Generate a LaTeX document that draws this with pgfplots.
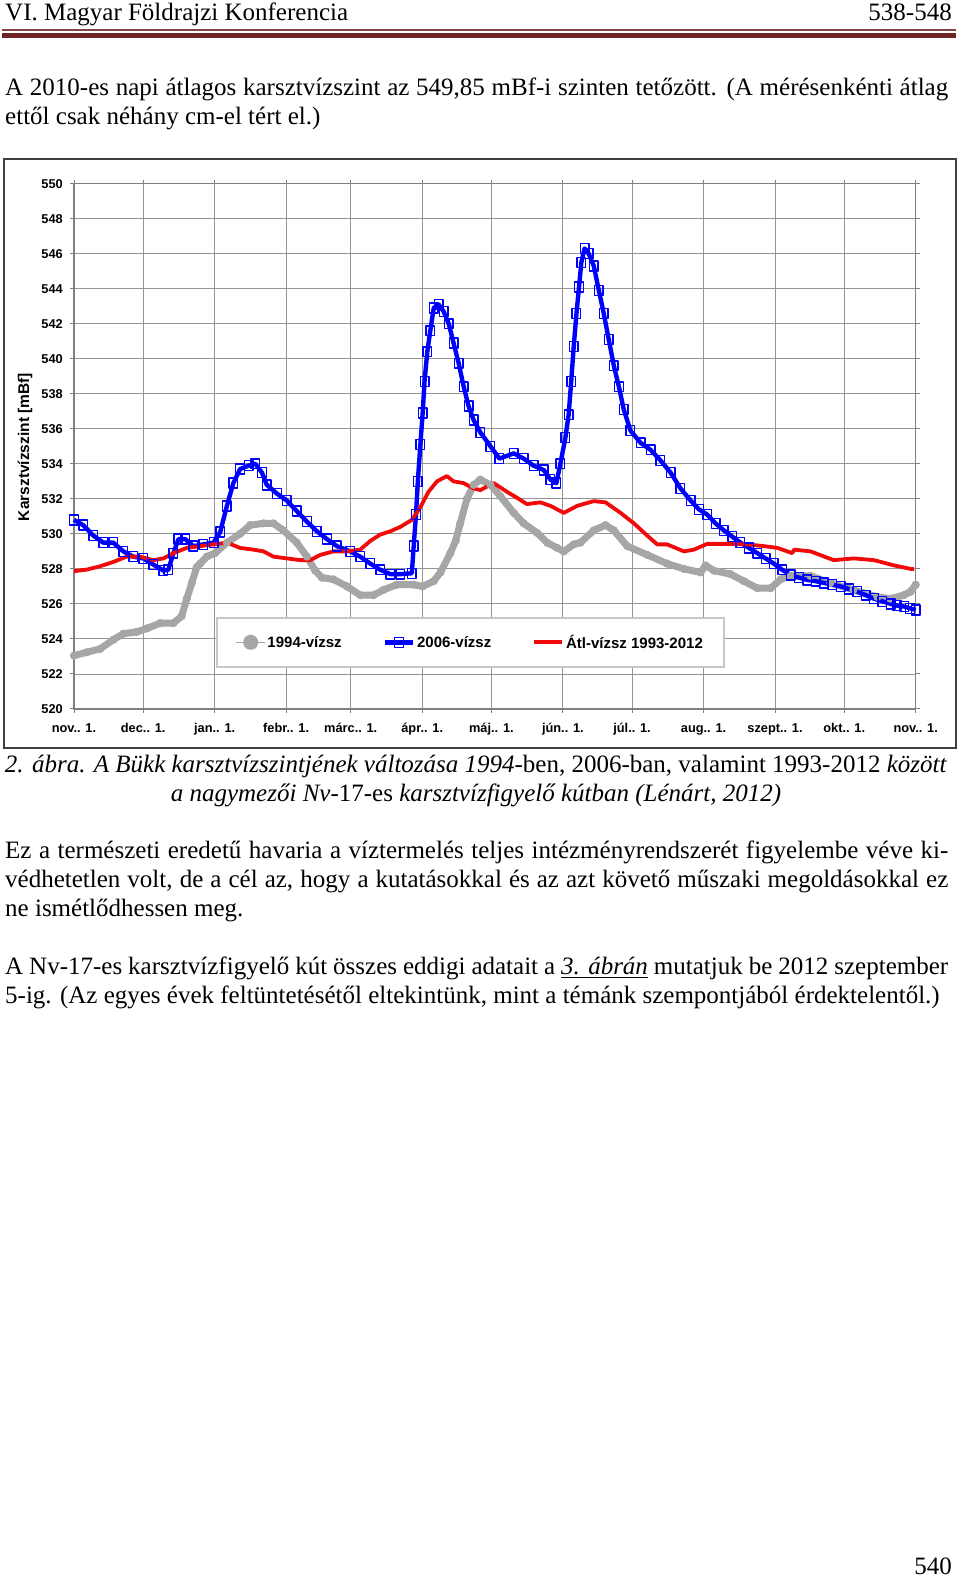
\documentclass[border=0pt]{standalone}
\usepackage{pgfplots}
\pgfplotsset{compat=1.18}
\usepackage{fontspec}
\setmainfont{Liberation Serif}
\newfontfamily\arialfont{Liberation Sans}
\definecolor{hdr}{RGB}{108,36,36}
\definecolor{mygray}{RGB}{166,166,166}
\definecolor{myred}{RGB}{240,10,10}
\tikzset{txt/.style={font=\fontsize{25}{29}\selectfont, inner sep=0pt}}
\newcommand\jline[2]{\node[txt,anchor=base west] at (5pt,1578pt-#1pt) {\makebox[943pt][s]{#2}};}
\newcommand\lline[2]{\node[txt,anchor=base west] at (5pt,1578pt-#1pt) {#2};}
\newcommand\ccline[2]{\node[txt,anchor=base] at (476pt,1578pt-#1pt) {#2};}

\pgfplotstableread{
d v
0 523.05
5.5 523.24
11.3 523.43
17.1 523.96
21.4 524.3
27.2 524.4
31.6 524.6
37.3 524.9
43.1 524.9
46.7 525.3
48.9 526.3
51.1 527.2
53.2 528.1
54.7 528.3
57.6 528.7
61.2 528.9
66.3 529.5
72 530.0
76.4 530.5
82.2 530.6
86.5 530.6
90.8 530.2
96.6 529.5
101 528.7
104.6 527.9
107.5 527.5
112.5 527.4
118.4 527.0
124.1 526.5
129.9 526.5
134.2 526.8
140 527.1
147.3 527.1
151.2 527.0
156 527.3
158.9 527.8
163.2 528.9
165.5 529.6
167.5 530.6
170.4 532.0
173.3 532.8
176.2 533.1
180.6 532.8
184.9 532.15
190.7 531.2
195 530.6
200.8 530.06
205.2 529.5
209.5 529.2
212.4 529.0
216.7 529.4
219.6 529.5
225.4 530.2
230.5 530.5
234.1 530.2
239.9 529.3
248.6 528.8
257.2 528.3
264.5 528.0
271.7 527.8
273.9 528.2
277.5 527.9
284.7 527.7
290.5 527.3
296.3 526.9
302.1 526.9
306.4 527.4
310.8 527.6
319.4 527.6
328 527.2
338 526.8
348.4 526.4
354 526.3
359.8 526.5
362.8 526.7
365 527.1
}\grayd

\pgfplotstableread{
d v
0 530.8
4 530.5
8.4 529.9
12.7 529.5
17 529.5
21.4 529.0
25.7 528.7
30.1 528.6
34.4 528.25
38.8 527.9
40.9 527.95
43.1 528.9
45.3 529.7
48.2 529.7
51.8 529.3
56.1 529.4
60.5 529.5
63.4 530.1
66.3 531.6
69.1 532.9
72 533.7
75.7 533.9
78.6 534.0
81.5 533.5
83.6 532.8
88 532.3
92.3 531.9
96.6 531.3
101 530.7
105.3 530.15
109.7 529.7
114 529.3
119.8 529.0
124.1 528.7
128.5 528.3
132.8 527.95
137.2 527.7
141.5 527.7
146.5 527.75
147.3 529.3
148.3 531.1
149.1 533.0
150.2 535.1
151.2 536.9
152 538.7
153.2 540.4
154.5 541.6
156 542.9
158.1 543.1
160.3 542.7
162.5 542.0
164.6 540.9
166.8 539.75
169 538.4
171.1 537.3
173.3 536.5
176.2 535.8
180.6 535.0
184.5 534.3
190.7 534.6
195 534.3
199.3 533.9
203.7 533.65
206.6 533.1
209.2 532.9
210.9 534.0
213.1 535.5
214.5 536.8
215.6 538.7
216.7 540.7
217.9 542.6
219 544.1
220 545.5
221.4 546.3
223.2 546.0
225.4 545.3
227.6 543.9
229.7 542.6
231.9 541.1
234.1 539.6
236.3 538.4
238.4 537.1
241.3 535.9
245.7 535.2
250 534.8
254.3 534.2
258.7 533.5
263 532.6
267.4 531.9
271 531.4
274.6 531.1
278.2 530.6
281.8 530.2
285.4 529.85
289 529.5
292.7 529.2
296.3 528.9
299.9 528.6
303.5 528.3
307.1 527.95
310.8 527.66
314.4 527.5
318 527.37
321.6 527.3
325.2 527.2
328.9 527.1
332.5 527.0
336.1 526.85
339.7 526.7
343.3 526.5
346.9 526.3
350.5 526.15
354.2 526.0
357 525.9
360 525.85
362.5 525.75
365 525.66
}\blued

\pgfplotstableread{
d v
0 527.87
5.5 527.96
11.3 528.15
17.1 528.4
22.8 528.7
28.6 528.7
34.4 528.5
38.8 528.6
43.1 528.9
48.9 529.2
54.7 529.3
60.5 529.4
66.3 529.5
72 529.2
77.8 529.1
82.2 529.0
86.5 528.7
92.3 528.6
98.1 528.5
102.4 528.5
106.8 528.8
112.5 529.0
118.3 529.0
124.1 529.1
128.5 529.6
132.8 529.96
137.2 530.15
141.5 530.4
146.5 530.8
150.1 531.5
153.7 532.4
157.4 533.0
161.7 533.3
164.6 533.0
168.9 532.9
173.3 532.6
176.2 532.5
182 532.9
187.8 532.4
192.1 532.06
196.4 531.7
202.2 531.8
206.6 531.6
212.4 531.2
218.2 531.6
225.4 531.87
230.5 531.8
237 531.2
242.8 530.6
248.6 529.9
252.9 529.4
257.2 529.4
264.5 529.0
268.8 529.1
274.6 529.43
283.3 529.43
292 529.4
299.2 529.3
305 529.2
311.5 528.9
312.2 529.1
319.4 529.0
329.5 528.5
338.2 528.6
346.9 528.5
355.6 528.2
362.8 528.0
364.3 528.0
}\redd

\begin{document}
\begin{tikzpicture}
\path[use as bounding box] (0pt,0pt) rectangle (960pt,1578pt);
\fill[white] (0pt,0pt) rectangle (960pt,1578pt);
% header
\node[txt,anchor=base west] at (5pt,1557pt) {VI. Magyar Földrajzi Konferencia};
\node[txt,anchor=base east] at (952pt,1557pt) {538-548};
\fill[hdr!85] (2pt,1547pt) rectangle (956pt,1548.5pt);
\fill[hdr] (2pt,1540pt) rectangle (956pt,1545pt);
% paragraph 0
\jline{96}{A 2010-es napi átlagos karsztvízszint az 549,85 mBf-i szinten tetőzött. (A mérésenkénti átlag}
\lline{125}{ettől csak néhány cm-el tért el.)}
% chart frame
\draw[line width=1.6pt, black!75] (4pt,830pt) rectangle (956pt,1419pt);
\node[rotate=90, inner sep=0pt, font=\arialfont\bfseries\fontsize{15.5}{18}\selectfont] at (25pt,1131pt) {Karsztvízszint [mBf]};
\begin{axis}[
  at={(74pt,869pt)}, anchor=south west,
  scale only axis, width=841.7pt, height=525.3pt,
  xmin=0, xmax=365, ymin=520, ymax=550,
  xtick={0,30,61,92,120,151,181,212,242,273,304,334,365},
  xticklabels={nov.. 1.,dec.. 1.,jan.. 1.,febr.. 1.,márc.. 1.,ápr.. 1.,máj.. 1.,jún.. 1.,júl.. 1.,aug.. 1.,szept.. 1.,okt.. 1.,nov.. 1.},
  ytick={520,522,...,550},
  /pgf/number format/assume math mode=true,
  /pgf/number format/1000 sep={},
  grid=major, grid style={black!42, line width=0.9pt},
  axis line style={black!50, line width=1.3pt},
  tick style={black!50, line width=1pt}, tick align=outside, major tick length=4pt,
  ticklabel style={font=\arialfont\bfseries\fontsize{12.8}{14}\selectfont, inner sep=0pt},
  yticklabel style={anchor=east, xshift=-7pt},
  xticklabel style={anchor=base, yshift=-20pt},
  clip=false,
  legend columns=3,
  legend cell align=left,
  legend style={at={(0.1687,0.1751)}, anchor=north west, draw=black!22, line width=1.8pt, fill=white,
    font=\arialfont\bfseries\fontsize{15}{18}\selectfont,
    inner xsep=19pt, inner ysep=16pt,
    nodes={inner xsep=2pt, inner ysep=1pt},
    /tikz/every even column/.append style={column sep=39pt}},
  legend image code/.code={\draw[mark repeat=2,mark phase=2,#1] plot coordinates {(0pt,0pt) (14pt,0pt) (28pt,0pt)};},
]
\addplot[mygray, line width=7pt, line join=round, line cap=round, mark=*, mark size=3.8pt, mark options={fill=mygray, draw=mygray, line width=0.5pt},
  legend image code/.code={\draw[mygray, line width=1.6pt] (0pt,0pt) -- (28pt,0pt); \fill[mygray] (14pt,0pt) circle (4.2pt);}]
  table[x=d,y=v] {\grayd};
\addlegendentry{1994-vízsz}
\addplot[blue, line width=4.4pt, line join=round, mark=square, mark size=4.3pt, mark options={solid, draw=blue, fill=none, line width=1.4pt, yscale=1.15}]
  table[x=d,y=v] {\blued};
\addlegendentry{2006-vízsz}
\addplot[myred, line width=3.8pt, line join=round]
  table[x=d,y=v] {\redd};
\addlegendentry{Átl-vízsz 1993-2012}
\end{axis}
% caption
\ccline{773}{\textit{2. ábra. A Bükk karsztvízszintjének változása 1994}-ben, 2006-ban, valamint 1993-2012 \textit{között}}
\ccline{802}{\textit{a nagymezői Nv}-17-es \textit{karsztvízfigyelő kútban (Lénárt, 2012)}}
% paragraph 1
\jline{859}{Ez a természeti eredetű havaria a víztermelés teljes intézményrendszerét figyelembe véve ki-}
\jline{888}{védhetetlen volt, de a cél az, hogy a kutatásokkal és az azt követő műszaki megoldásokkal ez}
\lline{917}{ne ismétlődhessen meg.}
% paragraph 2
\jline{975}{A Nv-17-es karsztvízfigyelő kút összes eddigi adatait a \underline{\textit{3. ábrán}} mutatjuk be 2012 szeptember}
\lline{1004}{5-ig. (Az egyes évek feltüntetésétől eltekintünk, mint a témánk szempontjából érdektelentől.)}
% page number
\node[txt,anchor=base east] at (952pt,3pt) {540};
\end{tikzpicture}
\end{document}
